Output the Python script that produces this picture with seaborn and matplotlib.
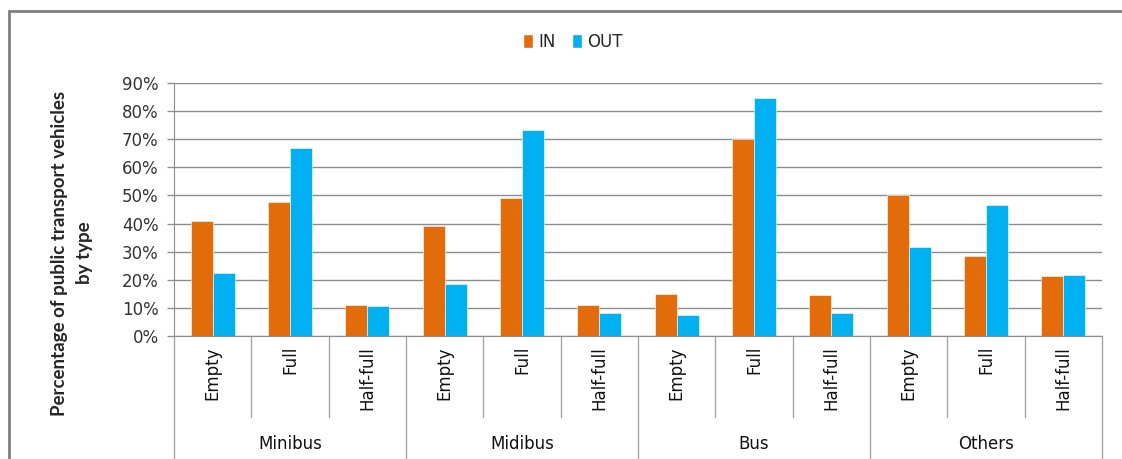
import matplotlib
matplotlib.use("Agg")
import matplotlib.pyplot as plt
from matplotlib.patches import Rectangle, Patch
from matplotlib.ticker import PercentFormatter
import seaborn as sns
import pandas as pd

# data (fractions)
groups = ["Minibus", "Midibus", "Bus", "Others"]
states = ["Empty", "Full", "Half-full"]
in_vals = [0.408, 0.478, 0.112,
           0.391, 0.492, 0.112,
           0.151, 0.701, 0.147,
           0.502, 0.284, 0.212]
out_vals = [0.224, 0.670, 0.108,
            0.185, 0.733, 0.081,
            0.074, 0.845, 0.081,
            0.318, 0.465, 0.217]
series = ["IN", "OUT"]
colors = ["#E36C0A", "#00B0F0"]

slots = [f"{g}|{s}" for g in groups for s in states]
df = pd.DataFrame({
    "slot": slots * 2,
    "value": in_vals + out_vals,
    "dir": ["IN"] * len(slots) + ["OUT"] * len(slots),
})

sns.set_style("white")
plt.rcParams["font.family"] = ["DejaVu Sans"]
grid_col = "#8c8c8c"

fig = plt.figure(figsize=(11.22, 4.59), dpi=100)
ax = fig.add_axes([174 / 1122, 1 - 336 / 459, (1102 - 174) / 1122, (336 - 83) / 459])

sns.barplot(data=df, x="slot", y="value", hue="dir", order=slots, hue_order=series,
            palette=colors, saturation=1, width=0.57, gap=0, ax=ax, legend=False,
            edgecolor="white", linewidth=0.4)

ax.set_ylim(0, 0.9)
ax.set_xlim(-0.5, len(slots) - 0.5)
ax.set_yticks([i / 10 for i in range(10)])
ax.yaxis.set_major_formatter(PercentFormatter(1, decimals=0))
ax.yaxis.grid(True, color=grid_col, lw=1)
ax.set_axisbelow(True)
ax.set_xticks([])
ax.set_xlabel("")
ax.set_ylabel("")
ax.tick_params(axis="y", length=5, width=1, color=grid_col, labelsize=12,
               labelcolor="#333333", left=True, pad=6)
for side in ["top", "right"]:
    ax.spines[side].set_visible(False)
ax.spines["left"].set_color(grid_col)
ax.spines["bottom"].set_color(grid_col)

trans = ax.get_xaxis_transform()
# separators below the axis
for i in range(len(slots) + 1):
    bottom = -0.55 if i % 3 == 0 else -0.32
    ax.plot([i - 0.5, i - 0.5], [0, bottom], color="#a6a6a6", lw=1,
            transform=trans, clip_on=False)

for i, s in enumerate(slots):
    ax.text(i, -0.04, s.split("|")[1], rotation=90, ha="center", va="top",
            fontsize=12, color="#111111", transform=trans)

for j, g in enumerate(groups):
    ax.text(j * 3 + 1, -0.425, g, ha="center", va="center", fontsize=12,
            color="#111111", transform=trans)

fig.text(72 / 1122, 1 - 253 / 459, "Percentage of public transport vehicles\nby type",
         rotation=90, ha="center", va="center", multialignment="center",
         fontsize=13.5, fontweight="bold", family=["Lato", "DejaVu Sans"], linespacing=1.5)

handles = [Patch(facecolor=c, label=l) for c, l in zip(colors, series)]
fig.legend(handles=handles, loc="center", bbox_to_anchor=(573 / 1122, 1 - 42 / 459),
           ncol=2, frameon=False, fontsize=12, handlelength=0.6, handleheight=0.9,
           handletextpad=0.3, columnspacing=1.0)

fig.add_artist(Rectangle((9 / 1122, -0.1), 1.2, 1.1 - 11 / 459,
                         transform=fig.transFigure, fill=False, edgecolor="#7f7f7f", lw=2))

fig.savefig("out.png", dpi=100)
